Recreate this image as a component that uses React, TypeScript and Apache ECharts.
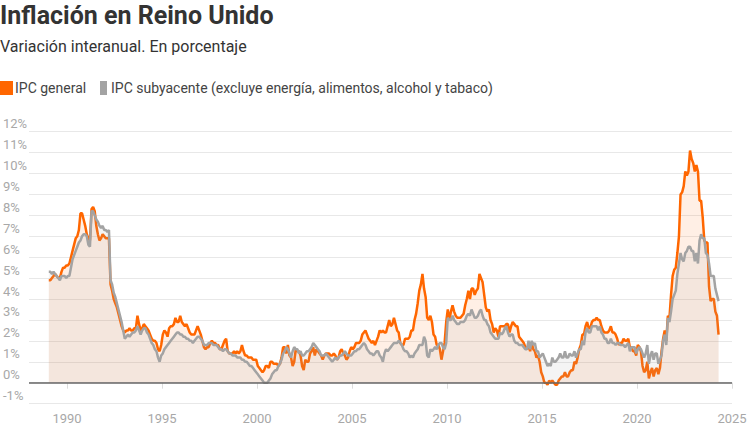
import React, { useEffect, useRef } from "react";
import * as echarts from "echarts";

// Monthly year-on-year rates, Jan 1989 – Apr 2024 (one row per year)
const START_YEAR = 1989;

const cpiGeneral: number[][] = [
  [4.9, 4.9, 5.0, 5.1, 5.2, 5.1, 5.0, 5.0, 5.3, 5.5, 5.5, 5.6], // 1989
  [5.6, 5.7, 6.0, 6.3, 6.6, 6.9, 7.0, 7.3, 8.1, 8.1, 7.8, 7.5], // 1990
  [7.1, 6.9, 6.8, 8.3, 8.4, 8.2, 7.5, 7.1, 6.8, 6.9, 7.1, 7.0], // 1991
  [6.9, 6.9, 6.9, 4.7, 4.4, 4.0, 3.8, 3.6, 3.3, 3.0, 2.7, 2.5], // 1992
  [2.4, 2.5, 2.5, 2.6, 2.5, 2.5, 2.6, 2.6, 3.2, 2.8, 2.5, 2.6], // 1993
  [2.8, 2.7, 2.6, 2.5, 2.3, 2.1, 2.0, 2.0, 1.9, 1.6, 1.5, 1.8], // 1994
  [2.3, 2.5, 2.4, 2.2, 2.6, 2.7, 2.7, 2.8, 3.1, 2.9, 2.9, 3.2], // 1995
  [2.9, 2.8, 2.7, 2.8, 2.6, 2.4, 2.3, 2.3, 2.3, 2.5, 2.7, 2.5], // 1996
  [2.3, 2.0, 1.7, 1.6, 1.7, 1.7, 1.9, 2.0, 1.9, 1.9, 1.8, 1.8], // 1997
  [1.6, 1.6, 1.8, 2.0, 2.1, 1.5, 1.4, 1.4, 1.4, 1.5, 1.4, 1.5], // 1998
  [1.4, 1.5, 1.8, 1.5, 1.3, 1.3, 1.2, 1.2, 1.2, 1.1, 1.1, 1.1], // 1999
  [0.8, 0.7, 0.6, 0.5, 0.6, 0.8, 0.8, 0.7, 1.0, 1.0, 0.9, 0.9], // 2000
  [0.9, 0.8, 0.9, 1.2, 1.7, 1.7, 1.4, 1.8, 1.3, 1.2, 0.8, 1.0], // 2001
  [1.6, 1.5, 1.5, 1.3, 0.8, 0.6, 1.1, 1.0, 1.0, 1.4, 1.5, 1.7], // 2002
  [1.3, 1.6, 1.5, 1.4, 1.3, 1.1, 1.3, 1.4, 1.4, 1.4, 1.3, 1.3], // 2003
  [1.4, 1.3, 1.1, 1.2, 1.5, 1.6, 1.4, 1.3, 1.1, 1.2, 1.5, 1.7], // 2004
  [1.6, 1.7, 1.9, 1.9, 1.9, 2.0, 2.3, 2.4, 2.5, 2.3, 2.1, 2.0], // 2005
  [1.9, 2.0, 1.8, 2.0, 2.2, 2.5, 2.4, 2.5, 2.4, 2.4, 2.7, 3.0], // 2006
  [2.7, 2.8, 3.1, 2.8, 2.5, 2.4, 1.9, 1.8, 1.8, 2.1, 2.1, 2.1], // 2007
  [2.2, 2.5, 2.5, 3.0, 3.3, 3.8, 4.4, 4.7, 5.2, 4.5, 4.1, 3.1], // 2008
  [3.0, 3.2, 2.9, 2.3, 2.2, 1.8, 1.8, 1.6, 1.1, 1.5, 1.9, 2.9], // 2009
  [3.5, 3.0, 3.4, 3.7, 3.4, 3.2, 3.1, 3.1, 3.1, 3.2, 3.3, 3.7], // 2010
  [4.0, 4.4, 4.0, 4.5, 4.5, 4.2, 4.4, 4.5, 5.2, 5.0, 4.8, 4.2], // 2011
  [3.6, 3.4, 3.5, 3.0, 2.8, 2.4, 2.6, 2.5, 2.2, 2.7, 2.7, 2.7], // 2012
  [2.7, 2.8, 2.8, 2.4, 2.7, 2.9, 2.8, 2.7, 2.7, 2.2, 2.1, 2.0], // 2013
  [1.9, 1.7, 1.6, 1.8, 1.5, 1.9, 1.6, 1.5, 1.2, 1.3, 1.0, 0.5], // 2014
  [0.3, 0.0, 0.0, -0.1, 0.1, 0.0, 0.1, 0.0, -0.1, -0.1, 0.1, 0.2], // 2015
  [0.3, 0.3, 0.5, 0.3, 0.3, 0.5, 0.6, 0.6, 1.0, 0.9, 1.2, 1.6], // 2016
  [1.8, 2.3, 2.3, 2.7, 2.9, 2.6, 2.6, 2.9, 3.0, 3.0, 3.1, 3.0], // 2017
  [3.0, 2.7, 2.5, 2.4, 2.4, 2.4, 2.5, 2.7, 2.4, 2.4, 2.3, 2.1], // 2018
  [1.8, 1.9, 1.9, 2.1, 2.0, 2.0, 2.1, 1.7, 1.7, 1.5, 1.5, 1.3], // 2019
  [1.8, 1.7, 1.5, 0.8, 0.5, 0.6, 1.0, 0.2, 0.5, 0.7, 0.3, 0.6], // 2020
  [0.7, 0.4, 0.7, 1.5, 2.1, 2.5, 2.0, 3.2, 3.1, 4.2, 5.1, 5.4], // 2021
  [5.5, 6.2, 7.0, 9.0, 9.1, 9.4, 10.1, 9.9, 10.1, 11.1, 10.7, 10.5], // 2022
  [10.1, 10.4, 10.1, 8.7, 8.7, 7.9, 6.8, 6.7, 6.7, 4.6, 3.9, 4.0], // 2023
  [4.0, 3.4, 3.2, 2.3], // 2024
];

const cpiCore: number[][] = [
  [5.3, 5.3, 5.2, 5.3, 5.2, 5.1, 5.0, 4.9, 5.1, 5.1, 5.1, 5.0], // 1989
  [5.1, 5.1, 5.5, 5.9, 6.1, 6.3, 6.5, 6.7, 6.8, 7.0, 7.1, 7.1], // 1990
  [7.0, 6.6, 6.5, 8.2, 8.2, 8.0, 7.8, 7.7, 7.5, 7.4, 7.5, 7.3], // 1991
  [7.3, 7.2, 7.3, 4.9, 4.7, 4.3, 4.1, 3.8, 3.5, 3.2, 2.9, 2.5], // 1992
  [2.1, 2.2, 2.3, 2.2, 2.3, 2.4, 2.4, 2.5, 2.7, 2.5, 2.3, 2.5], // 1993
  [2.6, 2.6, 2.4, 2.3, 2.1, 1.9, 1.8, 1.6, 1.5, 1.2, 1.0, 1.3], // 1994
  [1.4, 1.6, 1.7, 1.8, 1.9, 2.0, 2.1, 2.2, 2.3, 2.4, 2.4, 2.3], // 1995
  [2.3, 2.2, 2.2, 2.1, 2.1, 2.0, 2.0, 1.9, 2.0, 2.1, 2.2, 2.2], // 1996
  [2.1, 2.0, 1.8, 1.8, 1.8, 1.9, 1.9, 1.9, 1.8, 1.8, 1.8, 1.7], // 1997
  [1.6, 1.6, 1.5, 1.6, 1.6, 1.5, 1.4, 1.4, 1.3, 1.3, 1.3, 1.2], // 1998
  [1.2, 1.2, 1.1, 1.1, 1.0, 1.0, 0.9, 0.8, 0.8, 0.7, 0.6, 0.5], // 1999
  [0.4, 0.3, 0.2, 0.1, 0.0, 0.0, 0.0, 0.1, 0.2, 0.4, 0.5, 0.6], // 2000
  [0.6, 0.8, 0.9, 1.1, 1.4, 1.5, 1.7, 1.6, 1.4, 1.2, 1.5, 1.7], // 2001
  [1.6, 1.6, 1.4, 1.5, 1.3, 1.3, 1.4, 1.5, 1.5, 1.6, 1.7, 1.9], // 2002
  [1.8, 1.7, 1.6, 1.5, 1.3, 1.3, 1.3, 1.4, 1.3, 1.2, 1.1, 1.0], // 2003
  [1.1, 1.2, 1.1, 1.2, 1.3, 1.3, 1.4, 1.5, 1.4, 1.3, 1.3, 1.3], // 2004
  [1.4, 1.5, 1.5, 1.6, 1.6, 1.7, 1.8, 1.9, 1.8, 1.6, 1.5, 1.4], // 2005
  [1.4, 1.3, 1.4, 1.5, 1.5, 1.3, 1.2, 1.0, 1.4, 1.6, 1.5, 1.6], // 2006
  [1.7, 1.8, 1.9, 1.9, 1.9, 2.0, 1.9, 1.8, 1.6, 1.5, 1.5, 1.4], // 2007
  [1.2, 1.3, 1.2, 1.4, 1.5, 1.6, 1.8, 1.8, 1.8, 2.2, 2.0, 1.3], // 2008
  [1.2, 1.6, 1.5, 1.6, 1.7, 1.6, 1.8, 1.9, 1.9, 1.7, 1.6, 1.9], // 2009
  [3.1, 3.0, 3.0, 3.2, 3.0, 2.9, 2.8, 2.8, 2.9, 2.9, 2.9, 3.0], // 2010
  [3.2, 3.3, 3.2, 3.5, 3.3, 3.1, 3.1, 3.2, 3.4, 3.5, 3.2, 3.0], // 2011
  [3.0, 2.8, 2.7, 2.4, 2.3, 2.2, 2.1, 2.1, 2.1, 2.4, 2.3, 2.4], // 2012
  [2.6, 2.7, 2.4, 2.2, 2.3, 2.3, 2.0, 1.9, 1.9, 1.8, 1.8, 1.8], // 2013
  [1.7, 1.6, 1.6, 2.0, 1.6, 2.0, 1.8, 1.9, 1.5, 1.5, 1.2, 1.3], // 2014
  [1.4, 1.2, 1.0, 0.8, 0.9, 0.8, 1.2, 1.0, 1.0, 1.1, 1.2, 1.4], // 2015
  [1.2, 1.2, 1.5, 1.2, 1.2, 1.4, 1.3, 1.3, 1.5, 1.2, 1.4, 1.6], // 2016
  [1.6, 2.0, 1.8, 2.4, 2.6, 2.4, 2.4, 2.7, 2.7, 2.7, 2.7, 2.5], // 2017
  [2.7, 2.4, 2.3, 2.1, 2.1, 1.9, 1.9, 2.1, 1.9, 1.9, 1.8, 1.9], // 2018
  [1.9, 1.8, 1.8, 1.8, 1.7, 1.8, 1.9, 1.5, 1.7, 1.7, 1.7, 1.4], // 2019
  [1.6, 1.7, 1.6, 1.4, 1.2, 1.4, 1.8, 0.9, 1.3, 1.5, 1.1, 1.4], // 2020
  [1.4, 0.9, 1.1, 1.3, 2.0, 2.3, 1.8, 3.1, 2.9, 3.4, 4.0, 4.2], // 2021
  [4.4, 5.2, 5.7, 6.2, 5.9, 5.8, 6.2, 6.3, 6.5, 6.5, 6.3, 6.3], // 2022
  [5.8, 6.2, 5.7, 6.8, 7.1, 6.9, 6.9, 6.2, 6.1, 5.7, 5.1, 5.1], // 2023
  [5.1, 4.5, 4.2, 3.9], // 2024
];

const yearTicks = [1990, 1995, 2000, 2005, 2010, 2015, 2020, 2025];
const X_MIN = 1988;
const X_MAX = 2025;
const Y_MIN = -1;
const Y_MAX = 12;

const TITLE = "Inflación en Reino Unido";
const SUBTITLE = "Variación interanual. En porcentaje";
const LEGEND_GENERAL = "IPC general";
const LEGEND_CORE = "IPC subyacente (excluye energía, alimentos, alcohol y tabaco)";

const ORANGE = "#ff6600";
const GREY = "#a3a3a3";
const FONT = "Roboto, 'Noto Sans', sans-serif";

function toPoints(rows: number[][]): [number, number][] {
  const flat = rows.flat();
  return flat.map((v, i) => [START_YEAR + (i + 0.5) / 12, v]);
}

export default function App() {
  const ref = useRef<HTMLDivElement>(null);

  useEffect(() => {
    document.body.style.margin = "0";
    if (!ref.current) return;
    const chart = echarts.init(ref.current, undefined, { renderer: "svg" });

    const option: any = {
      animation: false,
      backgroundColor: "#ffffff",
      grid: { left: 26, right: 21, top: 131.7, bottom: 37.4, containLabel: false },
      graphic: [
        {
          type: "text",
          left: 0,
          top: 3,
          style: {
            text: TITLE,
            font: `bold 25px ${FONT}`,
            fill: "#333333",
          },
        },
        {
          type: "text",
          left: 0,
          top: 38,
          style: {
            text: SUBTITLE,
            font: `16px ${FONT}`,
            fill: "#333333",
          },
        },
        {
          type: "rect",
          shape: { x: 0, y: 81, width: 13, height: 14 },
          style: { fill: ORANGE },
        },
        {
          type: "text",
          x: 15,
          y: 88,
          style: {
            text: LEGEND_GENERAL,
            font: `14px ${FONT}`,
            fill: "#444444",
            verticalAlign: "middle",
          },
        },
        {
          type: "rect",
          shape: { x: 100, y: 81, width: 7, height: 14 },
          style: { fill: GREY },
        },
        {
          type: "text",
          x: 111,
          y: 88,
          style: {
            text: LEGEND_CORE,
            font: `14px ${FONT}`,
            fill: "#444444",
            verticalAlign: "middle",
          },
        },
      ],
      xAxis: {
        type: "value",
        min: X_MIN,
        max: X_MAX,
        splitLine: { show: false },
        axisLine: { show: false },
        axisTick: {
          show: true,
          length: 6,
          customValues: yearTicks,
          lineStyle: { color: "#dddddd", width: 1 },
        },
        axisLabel: {
          customValues: yearTicks,
          color: "#a8a8a8",
          fontSize: 13,
          fontFamily: FONT,
          margin: 8,
          formatter: (v: number) => String(Math.round(v)),
        },
      },
      yAxis: {
        type: "value",
        min: Y_MIN,
        max: Y_MAX,
        interval: 1,
        axisLine: { show: false },
        axisTick: { show: false },
        splitLine: { show: true, lineStyle: { color: "#e8e8e8", width: 1 } },
        axisLabel: {
          color: "#a8a8a8",
          fontSize: 13,
          fontFamily: FONT,
          align: "left",
          verticalAlign: "bottom",
          lineHeight: 14,
          margin: 26,
          padding: [0, 0, 1, 0],
          formatter: (v: number) => `${v}%`,
        },
      },
      series: [
        {
          name: LEGEND_GENERAL,
          type: "line",
          data: toPoints(cpiGeneral),
          showSymbol: false,
          symbol: "none",
          lineStyle: { color: ORANGE, width: 2.5 },
          itemStyle: { color: ORANGE },
          areaStyle: { color: ORANGE, opacity: 0.1 },
          z: 2,
        },
        {
          name: LEGEND_CORE,
          type: "line",
          data: toPoints(cpiCore),
          showSymbol: false,
          symbol: "none",
          lineStyle: { color: GREY, width: 2.5 },
          itemStyle: { color: GREY },
          areaStyle: { color: GREY, opacity: 0.12 },
          z: 3,
          markLine: {
            silent: true,
            symbol: ["none", "none"],
            label: { show: false },
            lineStyle: { color: "#666666", width: 1.5, type: "solid" },
            data: [{ yAxis: 0 }],
          },
        },
      ],
    };

    chart.setOption(option);
    return () => chart.dispose();
  }, []);

  return (
    <div
      ref={ref}
      style={{ position: "absolute", left: 0, top: 0, width: 753, height: 441 }}
    />
  );
}
